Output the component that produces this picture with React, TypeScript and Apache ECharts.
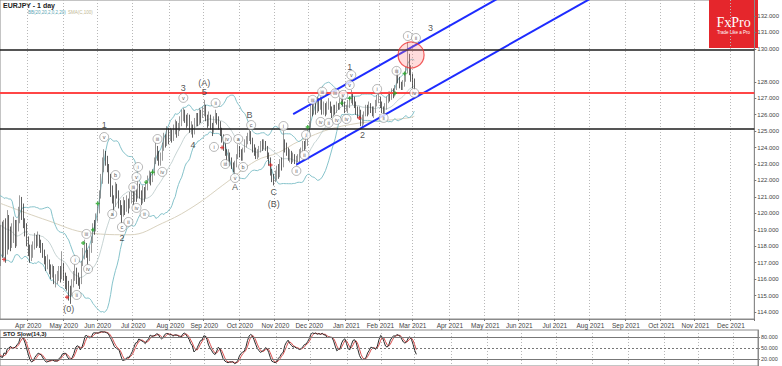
import React, { useEffect, useRef } from "react";
import * as echarts from "echarts";

// ---------- categories ----------
const START_YEAR = 2020;
const START_MONTH = 1; // Feb (0-based)
const START_DAY = 10;
const TOTAL_DAYS = 487;
const VISIBLE_FROM = 20; // 2020-03-09
const MONTHS = ["Jan", "Feb", "Mar", "Apr", "May", "Jun", "Jul", "Aug", "Sep", "Oct", "Nov", "Dec"];

// ---------- price data (daily, weekdays) ----------
const preCloses = [120.1, 120.0, 120.1, 119.3, 119.5, 119.6, 118.7, 120.1, 121.2, 120.9, 119.6, 119.1, 119.5, 118.9, 117.9, 118.2, 118.8, 119.3, 118.9, 117.7];
const preHighs = [120.4, 120.3, 120.4, 120.1, 119.7, 119.8, 119.6, 120.2, 121.5, 121.4, 120.5, 119.7, 119.8, 119.6, 119.0, 118.6, 119.2, 119.7, 119.6, 119.0];
const preLows = [119.9, 119.8, 119.9, 119.1, 119.2, 119.4, 118.5, 118.7, 120.0, 120.6, 119.4, 118.8, 118.9, 118.7, 117.6, 117.8, 118.0, 118.7, 118.6, 117.3];
const firstOpen = 120.3;

const closes = [
  118.4, 118.0, 119.1, 117.6, 119.3, 118.7, 118.0, 118.6, 118.9, 118.3,
  119.2, 119.6, 120.5, 120.2, 119.5, 119.0, 118.3, 117.8, 117.3, 117.6,
  117.9, 118.5, 118.3, 118.6, 118.2, 117.9, 117.6, 117.2, 116.8, 117.1,
  116.7, 116.4, 116.6, 115.9, 116.0, 116.2, 116.5, 116.3, 116.9, 116.4,
  115.9, 115.8, 115.2, 115.1, 115.6, 116.1, 116.6, 116.2, 115.9, 115.7,
  116.9, 117.4, 118.0, 117.6, 117.2, 117.8, 118.4, 119.2, 119.0, 119.7,
  120.2, 121.1, 122.2, 122.7, 123.6, 123.3, 122.8, 122.1, 121.4, 121.0,
  120.6, 121.5, 121.2, 120.6, 120.2, 120.0, 120.6, 120.2, 120.7, 120.4,
  120.9, 121.2, 120.8, 121.3, 121.0, 121.6, 121.2, 120.8, 121.4, 121.0,
  121.6, 122.0, 122.3, 122.0, 122.4, 123.2, 123.9, 123.6, 123.1, 123.4,
  124.0, 124.6, 124.3, 124.9, 124.6, 124.9, 124.5, 125.1, 125.4, 124.8,
  125.2, 125.6, 126.0, 126.2, 125.8, 125.6, 125.9, 125.1, 125.3, 124.9,
  125.5, 125.9, 125.6, 126.1, 126.0, 126.3, 126.5, 125.8, 125.5, 125.9,
  125.3, 125.0, 125.7, 126.0, 125.8, 125.4, 125.1, 124.6, 124.2, 123.8,
  123.2, 123.6, 123.2, 122.9, 122.7, 123.0, 123.4, 124.0, 123.7, 123.5,
  123.9, 124.2, 124.4, 124.6, 124.8, 124.4, 123.9, 123.8, 123.5, 123.6,
  123.9, 124.2, 124.0, 124.3, 124.1, 123.5, 123.3, 122.6, 122.1, 122.0,
  122.3, 122.6, 122.4, 123.0, 122.9, 124.3, 124.1, 123.8, 123.4, 123.6,
  123.3, 123.5, 123.2, 123.3, 123.4, 123.6, 123.9, 124.2, 124.0, 124.4,
  124.9, 125.3, 126.4, 126.2, 126.6, 126.3, 126.8, 126.5, 126.9, 126.3,
  126.6, 126.2, 126.5, 126.7, 126.3, 126.1, 126.4, 126.2, 126.6, 126.5,
  126.8, 127.0, 126.7, 126.3, 126.4, 126.6, 126.9, 127.1, 126.9, 126.7,
  126.3, 126.1, 126.2, 125.6, 125.7, 126.0, 126.4, 126.2, 126.6, 126.3,
  126.1, 126.3, 126.7, 127.0, 127.0, 126.6, 126.3, 126.2, 126.5, 126.9,
  127.2, 127.0, 127.4, 127.3, 127.6, 128.4, 128.2, 127.8, 127.7, 127.9,
  128.2, 128.6, 129.5, 128.8, 128.3, 128.0, 127.8,
];
const highs = [
  119.3, 119.5, 119.6, 119.7, 120.2, 119.9, 119.2, 119.4, 119.8, 119.6,
  119.6, 120.4, 121.1, 121.0, 120.6, 119.7, 119.4, 118.6, 118.1, 118.1,
  118.3, 118.8, 118.7, 118.9, 118.7, 118.4, 118.2, 117.8, 117.4, 117.5,
  117.2, 116.9, 116.9, 116.8, 116.3, 116.5, 116.8, 116.8, 117.7, 117.0,
  116.4, 116.2, 115.9, 115.6, 116.0, 116.5, 116.9, 116.7, 116.4, 116.1,
  117.1, 117.9, 118.4, 118.2, 117.8, 118.0, 118.6, 119.4, 119.6, 120.0,
  120.5, 121.4, 122.4, 123.4, 123.9, 123.8, 123.5, 123.0, 122.4, 121.7,
  121.1, 121.9, 121.8, 121.4, 120.8, 120.5, 121.0, 120.8, 121.1, 120.9,
  121.3, 121.5, 121.4, 121.6, 121.5, 122.0, 121.8, 121.4, 121.7, 121.6,
  121.9, 122.3, 122.6, 122.5, 122.7, 123.4, 124.3, 124.1, 123.8, 123.7,
  124.3, 124.9, 124.8, 125.3, 125.2, 125.2, 125.1, 125.4, 125.7, 125.6,
  125.5, 125.9, 126.3, 126.4, 126.3, 126.0, 126.1, 126.0, 125.6, 125.4,
  125.8, 126.1, 126.1, 126.4, 126.3, 126.5, 126.9, 126.6, 126.0, 126.2,
  126.0, 125.5, 125.9, 126.3, 126.1, 125.9, 125.6, 125.2, 124.8, 124.4,
  123.9, 123.9, 123.7, 123.4, 123.1, 123.2, 123.6, 124.2, 124.1, 123.9,
  124.0, 124.5, 124.7, 124.9, 125.1, 125.0, 124.6, 124.2, 124.0, 123.9,
  124.1, 124.4, 124.5, 124.5, 124.4, 124.1, 123.7, 123.4, 122.7, 122.4,
  122.6, 122.9, 123.0, 123.3, 123.4, 125.0, 124.5, 124.3, 124.0, 123.9,
  123.8, 123.7, 123.6, 123.5, 123.6, 123.9, 124.0, 124.4, 124.4, 124.7,
  125.1, 125.6, 126.6, 126.7, 126.9, 126.8, 127.1, 127.0, 127.1, 127.0,
  126.8, 126.7, 126.8, 127.0, 126.8, 126.5, 126.6, 126.6, 126.8, 126.7,
  127.0, 127.2, 127.2, 126.8, 126.6, 126.9, 127.1, 127.5, 127.3, 127.1,
  126.8, 126.5, 126.5, 126.3, 126.0, 126.2, 126.6, 126.6, 126.8, 126.7,
  126.5, 126.5, 126.9, 127.2, 127.3, 127.1, 126.8, 126.5, 126.7, 127.1,
  127.4, 127.4, 127.6, 127.6, 127.8, 128.9, 128.7, 128.3, 128.0, 128.1,
  128.5, 128.9, 130.4, 129.7, 129.0, 128.5, 128.2,
];
const lows = [
  116.8, 117.3, 117.4, 117.0, 117.5, 117.8, 117.7, 117.9, 118.2, 117.9,
  118.0, 118.9, 119.4, 119.6, 119.1, 118.6, 118.0, 117.4, 117.0, 117.1,
  117.3, 117.8, 117.9, 118.0, 117.9, 117.6, 117.3, 116.9, 116.5, 116.6,
  116.3, 116.0, 116.1, 115.7, 115.5, 115.7, 115.9, 115.8, 116.0, 115.9,
  115.4, 115.3, 114.7, 114.5, 115.0, 115.5, 115.9, 115.7, 115.6, 115.4,
  115.7, 116.8, 117.2, 117.3, 116.9, 117.1, 117.6, 118.2, 118.7, 118.9,
  119.5, 120.0, 120.9, 121.8, 122.5, 122.9, 122.5, 121.8, 121.0, 120.6,
  120.0, 120.4, 120.9, 120.3, 119.9, 119.4, 119.8, 119.9, 120.1, 120.0,
  120.3, 120.6, 120.5, 120.7, 120.7, 120.9, 120.9, 120.5, 120.6, 120.7,
  120.9, 121.4, 121.8, 121.7, 121.9, 122.3, 123.0, 123.2, 122.9, 122.9,
  123.2, 123.8, 124.0, 124.1, 124.2, 124.4, 124.3, 124.4, 124.8, 124.6,
  124.7, 125.0, 125.3, 125.6, 125.5, 125.2, 125.3, 124.9, 124.8, 124.6,
  124.8, 125.3, 125.3, 125.4, 125.5, 125.8, 125.9, 125.6, 125.2, 125.3,
  125.1, 124.7, 124.9, 125.5, 125.4, 125.1, 124.7, 124.3, 123.8, 123.5,
  123.0, 122.9, 122.9, 122.7, 122.5, 122.4, 122.8, 123.3, 123.4, 123.2,
  123.2, 123.7, 124.0, 124.2, 124.4, 124.2, 123.7, 123.5, 123.3, 123.3,
  123.4, 123.7, 123.8, 123.9, 123.8, 123.3, 122.9, 122.3, 121.9, 121.7,
  121.9, 122.0, 122.1, 122.2, 122.6, 122.8, 123.7, 123.5, 123.2, 123.1,
  123.0, 123.1, 123.0, 122.9, 123.1, 123.1, 123.4, 123.7, 123.8, 123.9,
  124.1, 124.7, 125.2, 125.9, 126.0, 126.0, 126.1, 126.2, 126.3, 126.0,
  126.0, 125.9, 126.0, 126.3, 126.1, 125.8, 125.9, 126.0, 126.1, 126.3,
  126.3, 126.6, 126.5, 126.1, 126.2, 126.1, 126.4, 126.7, 126.6, 126.4,
  126.0, 125.8, 125.8, 125.3, 125.2, 125.4, 125.9, 125.9, 126.0, 126.1,
  125.9, 125.8, 126.1, 126.5, 126.7, 126.4, 126.1, 125.9, 126.0, 126.3,
  126.7, 126.8, 126.9, 127.0, 127.1, 127.5, 127.9, 127.6, 127.5, 127.5,
  127.7, 128.0, 128.5, 128.4, 128.0, 127.6, 127.5,
];

// SMA(C,100): [visible day index, value]
const smaAnchors = [
  [0, 120.6], [28, 119.6], [55, 118.8], [80, 118.7], [100, 119.4], [119, 120.4],
  [140, 121.9], [158, 123.2], [172, 123.7], [185, 124.4], [211, 125.3], [252, 125.8], [256, 125.9],
];

// horizontal levels
const resistanceLevel = 129.95;
const redLevel = 127.32;
const supportLevel = 125.15;
const priceTags = [128.831, 128.384, 125.62];
const yTickValues = [114, 115, 116, 117, 118, 119, 120, 121, 122, 123, 124, 125, 126, 127, 128, 130, 131, 132];
const stoLevels = [80, 50, 20];

// channel trend lines: [visible day index, price]
const channelUpper = [[181, 126.03], [320, 133.74]];
const channelLower = [[183, 122.97], [380, 133.88]];

// Elliott wave labels: [visible day index, price, text]
const waveLabels: [number, number, string][] = [
  [42, 114.19, "(0)"], [64, 125.37, "1"], [75, 118.5, "2"], [113, 127.6, "3"], [119, 124.16, "4"],
  [126, 127.93, "(A)"], [126, 127.4, "5"], [145, 121.6, "A"], [154, 125.98, "B"], [169, 121.3, "C"],
  [169, 120.6, "(B)"], [216, 128.9, "1"], [224, 124.77, "2"], [266, 131.27, "3"],
];
const circledLabels: [number, number, string][] = [
  [46, 117.17, "i"], [47, 115.04, "ii"], [53, 118.75, "iii"], [54, 116.62, "iv"], [64, 124.64, "v"],
  [71, 122.33, "b"], [69, 119.96, "a"], [75, 119.17, "c"],
  [84, 122.21, "v"], [85, 122.82, "i"], [79, 119.48, "ii"], [82, 121.6, "iii"], [84, 120.33, "iv"], [89, 119.96, "ii"],
  [97, 124.52, "iii"], [100, 122.52, "iv"], [113, 127.02, "v"],
  [132, 124.04, "i"], [133, 126.71, "ii"], [139, 123.0, "iii"], [140, 124.52, "iv"], [145, 122.15, "v"],
  [147, 124.52, "a"], [150, 122.82, "b"], [155, 125.37, "c"],
  [175, 125.31, "i"], [183, 122.58, "ii"], [188, 123.55, "ii"], [189, 124.77, "i"],
  [193, 126.9, "iii"], [198, 125.56, "iv"], [203, 125.5, "ii"], [208, 125.68, "iv"], [214, 125.74, "iv"],
  [199, 127.4, "iii"], [207, 127.3, "iii"], [212, 127.2, "v"],
  [216, 127.8, "v"], [217, 128.41, "v"],
  [233, 127.56, "i"], [237, 125.8, "ii"], [245, 128.66, "iii"], [256, 127.32, "iv"],
  [252, 130.78, "i"], [257, 130.66, "ii"],
];
const greenMarks = [[51, 118.2], [57, 119.0], [60, 120.6], [90, 121.9], [94, 122.5], [190, 125.25], [211, 126.7], [216, 127.0], [244, 127.3], [250, 128.5]];
const redMarks = [[2, 117.2], [41, 114.9], [137, 124.0], [167, 122.94], [222, 125.8]];
const peakCircle = [254, 129.63];

function buildDates() {
  const out: string[] = [];
  const d = new Date(Date.UTC(START_YEAR, START_MONTH, START_DAY));
  while (out.length < TOTAL_DAYS) {
    const wd = d.getUTCDay();
    if (wd !== 0 && wd !== 6) out.push(d.toISOString().slice(0, 10));
    d.setUTCDate(d.getUTCDate() + 1);
  }
  return out;
}

function buildOption() {
  const dates = buildDates();
  const allC = [...preCloses, ...closes];
  const allH = [...preHighs, ...highs];
  const allL = [...preLows, ...lows];
  const n = allC.length;
  const candles = allC.map((c, i) => {
    const o = i === 0 ? firstOpen : allC[i - 1];
    return [o, c, Math.min(allL[i], o, c), Math.max(allH[i], o, c)];
  });

  // Bollinger bands (20, 2)
  const bbUp: (number | null)[] = [];
  const bbLo: (number | null)[] = [];
  const bbMid: (number | null)[] = [];
  for (let i = 0; i < n; i++) {
    if (i < 19) { bbUp.push(null); bbLo.push(null); bbMid.push(null); continue; }
    const w = allC.slice(i - 19, i + 1);
    const m = w.reduce((a, b) => a + b, 0) / 20;
    const sd = Math.sqrt(w.reduce((a, b) => a + (b - m) * (b - m), 0) / 20);
    bbMid.push(m); bbUp.push(m + 2 * sd); bbLo.push(m - 2 * sd);
  }

  // Slow stochastic (14,3,3)
  const kRaw: (number | null)[] = [];
  for (let i = 0; i < n; i++) {
    if (i < 15) { kRaw.push(null); continue; }
    let num = 0, den = 0;
    for (let j = i - 2; j <= i; j++) {
      const ll = Math.min(...allL.slice(j - 13, j + 1));
      const hh = Math.max(...allH.slice(j - 13, j + 1));
      num += allC[j] - ll; den += hh - ll;
    }
    kRaw.push(den === 0 ? 50 : (100 * num) / den);
  }
  const dRaw: (number | null)[] = kRaw.map((v, i) =>
    i < 17 || v == null ? null : ((kRaw[i] as number) + (kRaw[i - 1] as number) + (kRaw[i - 2] as number)) / 3
  );

  const monthStart = (i: number) => i > 0 && dates[i].slice(0, 7) !== dates[i - 1].slice(0, 7);
  const cat = (vi: number) => dates[VISIBLE_FROM + vi];
  const font = "Liberation Sans";
  const plusPath = "path://M2,0H4V2H6V4H4V6H2V4H0V2H2Z";

  return {
    animation: false,
    textStyle: { fontFamily: font },
    grid: [
      { left: 0, top: 0, width: 758, height: 319, show: true, borderColor: "#8a8a8a", borderWidth: 1 },
      { left: 0, top: 330, width: 758, height: 36, show: true, borderColor: "#8a8a8a", borderWidth: 1 },
    ],
    xAxis: [
      {
        type: "category", data: dates, gridIndex: 0, min: VISIBLE_FROM, max: TOTAL_DAYS - 1, boundaryGap: true,
        axisLine: { show: true, lineStyle: { color: "#8a8a8a" } },
        axisTick: { show: true, interval: (i: number) => monthStart(i), length: 2, lineStyle: { color: "#777" } },
        axisLabel: {
          interval: (i: number) => monthStart(i), fontSize: 6.5, color: "#444", margin: 2.5,
          formatter: (v: string) => `${MONTHS[Number(v.slice(5, 7)) - 1]} ${v.slice(0, 4)}`,
        },
        splitLine: { show: true, interval: (i: number) => monthStart(i), lineStyle: { color: "#b8b8b8", type: [1, 2], width: 1 } },
      },
      {
        type: "category", data: dates, gridIndex: 1, min: VISIBLE_FROM, max: TOTAL_DAYS - 1, boundaryGap: true,
        axisLine: { show: false }, axisTick: { show: false }, axisLabel: { show: false },
        splitLine: { show: true, interval: (i: number) => monthStart(i), lineStyle: { color: "#b8b8b8", type: [1, 2], width: 1 } },
      },
    ],
    yAxis: [
      {
        type: "value", gridIndex: 0, position: "right", min: 113.58, max: 132.97, scale: true,
        splitLine: { show: false },
        axisLine: { show: true, lineStyle: { color: "#8a8a8a" } },
        axisTick: { show: true, customValues: yTickValues, length: 2, lineStyle: { color: "#777" } },
        axisLabel: { customValues: yTickValues, fontSize: 6, color: "#444", margin: 3, formatter: (v: number) => v.toFixed(3) },
      },
      {
        type: "value", gridIndex: 1, position: "right", min: 0, max: 100,
        splitLine: { show: false },
        axisLine: { show: true, lineStyle: { color: "#8a8a8a" } },
        axisTick: { show: true, customValues: stoLevels, length: 2 },
        axisLabel: { customValues: stoLevels, fontSize: 5.5, color: "#444", margin: 3, formatter: (v: number) => v.toFixed(3) },
      },
    ],
    series: [
      {
        type: "line", name: "sma", xAxisIndex: 0, yAxisIndex: 0, symbol: "none", smooth: 0.4,
        data: smaAnchors.map(([i, v]) => [cat(i), v]),
        lineStyle: { color: "#d9d2bf", width: 1 }, z: 1,
      },
      { type: "line", name: "bbMid", symbol: "none", data: bbMid, lineStyle: { color: "#b9c9c9", width: 0.8 }, z: 1 },
      { type: "line", name: "bbUp", symbol: "none", data: bbUp, lineStyle: { color: "#86c3cb", width: 1 }, z: 1 },
      { type: "line", name: "bbLo", symbol: "none", data: bbLo, lineStyle: { color: "#86c3cb", width: 1 }, z: 1 },
      {
        type: "candlestick", name: "EURJPY", xAxisIndex: 0, yAxisIndex: 0, data: candles, barWidth: 1, z: 3,
        itemStyle: { color: "#9a9a9a", color0: "#1e1e1e", borderColor: "#6e6e6e", borderColor0: "#1e1e1e", borderWidth: 0.7 },
        markLine: {
          symbol: "none", silent: true, animation: false,
          label: { show: false },
          data: [
            { yAxis: resistanceLevel, lineStyle: { color: "#1c1c1c", width: 1.5, type: "solid" } },
            { yAxis: redLevel, lineStyle: { color: "#ff4646", width: 2, type: "solid" } },
            { yAxis: supportLevel, lineStyle: { color: "#1c1c1c", width: 1.5, type: "solid" } },
          ],
        },
      },
      {
        type: "line", name: "tags", data: [], symbol: "none",
        markLine: {
          symbol: "none", silent: true, animation: false,
          data: priceTags.map((v, k) => ({
            yAxis: v,
            lineStyle: { opacity: 0 },
            label: {
              show: true, position: "end", distance: 2, formatter: v.toFixed(3), fontSize: 6, color: "#333",
              backgroundColor: k === 0 ? "#d3e6f2" : k === 1 ? "#f3e3e3" : "#ffffff",
              borderColor: k === 0 ? "#6f9fc2" : k === 1 ? "#c46a6a" : "#777",
              borderWidth: 0.6, padding: [1, 1, 0, 1],
            },
          })),
        },
      },
      {
        type: "line", name: "chanUp", symbol: "none", data: channelUpper.map(([i, v]) => [cat(i), v]),
        lineStyle: { color: "#1d2bff", width: 2 }, z: 4,
      },
      {
        type: "line", name: "chanLo", symbol: "none", data: channelLower.map(([i, v]) => [cat(i), v]),
        lineStyle: { color: "#1d2bff", width: 2 }, z: 4,
      },
      {
        type: "scatter", name: "peak", data: [[cat(peakCircle[0]), peakCircle[1]]], symbolSize: 26, z: 5,
        itemStyle: { color: "rgba(255,130,130,0.35)", borderColor: "#ee3535", borderWidth: 1.2 },
      },
      {
        type: "scatter", name: "green", data: greenMarks.map(([i, v]) => [cat(i), v]), symbol: plusPath, symbolSize: 4, z: 5,
        itemStyle: { color: "#1fa31f" },
      },
      {
        type: "scatter", name: "red", data: redMarks.map(([i, v]) => [cat(i), v]), symbol: plusPath, symbolSize: 4, z: 5,
        itemStyle: { color: "#d62020" },
      },
      {
        type: "scatter", name: "circled", z: 6, symbol: "circle", symbolSize: 9,
        itemStyle: { color: "#ffffff", borderColor: "#6a6a6a", borderWidth: 0.6 },
        label: { show: true, position: "inside", fontSize: 5.5, color: "#222", formatter: (p: any) => p.data.t },
        data: circledLabels.map(([i, v, t]) => ({ value: [cat(i), v], t })),
      },
      {
        type: "scatter", name: "waves", z: 6, symbol: "circle", symbolSize: 1,
        itemStyle: { color: "rgba(0,0,0,0)" },
        label: { show: true, position: "inside", fontSize: 9, color: "#262626", formatter: (p: any) => p.data.t },
        data: waveLabels.map(([i, v, t]) => ({ value: [cat(i), v], t })),
      },
      {
        type: "line", name: "%K", xAxisIndex: 1, yAxisIndex: 1, symbol: "none", data: kRaw,
        lineStyle: { color: "#2a2a2a", width: 1 }, z: 3,
        markLine: {
          symbol: "none", silent: true, animation: false, label: { show: false },
          data: [
            { yAxis: 80, lineStyle: { color: "#777", width: 1, type: "solid" } },
            { yAxis: 50, lineStyle: { color: "#777", width: 1, type: [2, 2] } },
            { yAxis: 20, lineStyle: { color: "#777", width: 1, type: "solid" } },
          ],
        },
      },
      {
        type: "line", name: "%D", xAxisIndex: 1, yAxisIndex: 1, symbol: "none", data: dRaw,
        lineStyle: { color: "#d95050", width: 1 }, z: 2,
      },
    ],
    graphic: [
      { type: "text", left: 3, top: 2, style: { text: "EURJPY - 1 day", fontSize: 7, fontWeight: "bold", fill: "#222", fontFamily: font } },
      { type: "text", left: 28, top: 10, style: { text: "BB(20,20,2,0,2,20)", fontSize: 4.5, fill: "#5aa5b3", fontFamily: font } },
      { type: "text", left: 68, top: 10, style: { text: "SMA(C,100)", fontSize: 4.5, fill: "#c2b894", fontFamily: font } },
      { type: "text", left: 3, top: 331, style: { text: "STO Slow(14,3)", fontSize: 6, fontWeight: "bold", fill: "#222", fontFamily: font } },
      {
        type: "group", left: 709, top: 0, children: [
          { type: "rect", shape: { x: 0, y: 0, width: 49, height: 48 }, style: { fill: "#e5262c" } },
          { type: "text", x: 24.5, y: 22, style: { text: "FxPro", fontSize: 14, fontFamily: "Liberation Serif", fill: "#ffffff", align: "center", verticalAlign: "middle" } },
          { type: "text", x: 24.5, y: 32, style: { text: "Trade Like a Pro", fontSize: 4.5, fontFamily: font, fill: "#ffffff", align: "center", verticalAlign: "middle" } },
        ],
      },
    ],
  };
}

export default function App() {
  const ref = useRef<HTMLDivElement>(null);
  useEffect(() => {
    if (!ref.current) return;
    const chart = echarts.init(ref.current, null, { renderer: "svg" });
    chart.setOption(buildOption() as any);
    return () => chart.dispose();
  }, []);
  return <div ref={ref} style={{ position: "fixed", left: 0, top: 0, width: 782, height: 366, background: "#ffffff" }} />;
}
